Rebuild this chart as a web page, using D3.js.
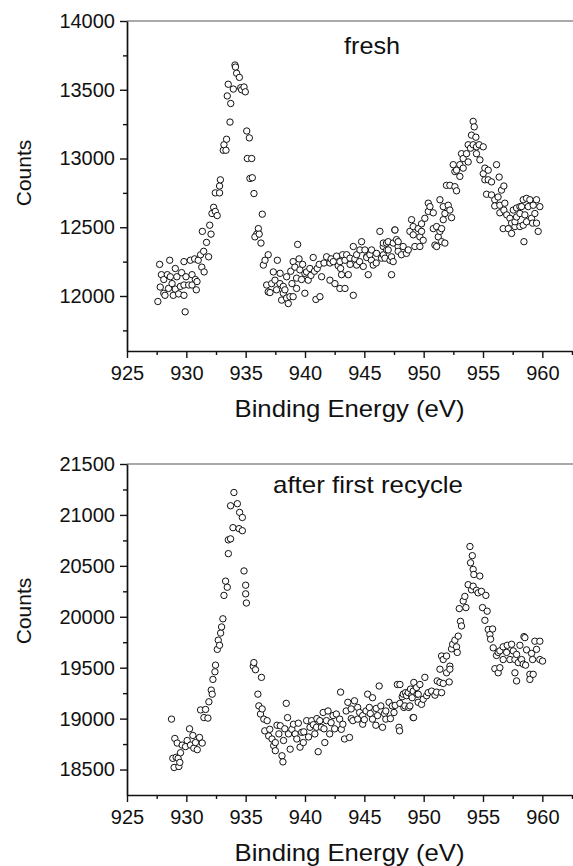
<!DOCTYPE html>
<html>
<head>
<meta charset="utf-8">
<script src="https://cdn.jsdelivr.net/npm/d3@7"></script>
<style>
  body { margin: 0; background: #fff; }
  svg { display: block; font-family: "Liberation Sans", Arial, sans-serif; }
  .domain { stroke: #111; stroke-width: 1.7px; }
  .tick line { stroke: #111; stroke-width: 1.4px; }
</style>
</head>
<body>
<div id="chart"></div>
<script>
// x ticks shared by both panels
const xTicks = [925, 930, 935, 940, 945, 950, 955, 960];
const xMinorTicks = [927.5, 932.5, 937.5, 942.5, 947.5, 952.5, 957.5, 962.5];

// fresh catalyst
const freshYTicks = [12000, 12500, 13000, 13500, 14000];
const freshYMinor = [11750, 12250, 12750, 13250, 13750];
const freshEnergy = [
  927.6, 927.75, 927.8, 927.9, 928.1, 928.1, 928.2, 928.4, 928.5, 928.6,
  928.65, 928.8, 928.9, 929.07, 929.07, 929.2, 929.35, 929.5, 929.6, 929.8,
  929.8, 929.8, 929.9, 929.97, 930.2, 930.34, 930.48, 930.48, 930.7, 930.76,
  930.84, 930.9, 931.0, 931.2, 931.3, 931.35, 931.46, 931.5, 931.7, 931.88,
  931.97, 932.08, 932.16, 932.3, 932.44, 932.44, 932.6, 932.8, 932.8, 932.87,
  933.11, 933.17, 933.34, 933.39, 933.45, 933.53, 933.68, 933.74, 933.96, 934.1,
  934.14, 934.24, 934.47, 934.58, 934.66, 934.86, 934.97, 935.09, 935.14, 935.31,
  935.36, 935.51, 935.56, 935.7, 936.07, 935.93, 935.78, 936.14, 936.29, 936.4,
  936.49, 936.63, 936.77, 936.9, 936.9, 937.05, 937.19, 937.33, 937.47, 937.6,
  937.67, 937.89, 937.9, 938.03, 938.17, 938.17, 938.31, 938.45, 938.45, 938.59,
  938.73, 938.8, 938.9, 939.0, 939.0, 939.15, 939.29, 939.29, 939.38, 939.5,
  939.57, 939.71, 939.8, 939.99, 939.99, 940.13, 940.27, 940.41, 940.5, 940.69,
  940.8, 940.92, 941.03, 941.2, 941.26, 941.4, 941.6, 941.82, 942.1, 942.1,
  942.2, 942.38, 942.52, 942.66, 942.8, 942.94, 942.94, 943.0, 943.08, 943.17,
  943.37, 943.37, 943.51, 943.65, 943.79, 943.8, 944.07, 944.07, 944.2, 944.35,
  944.35, 944.6, 944.63, 944.77, 944.91, 945.05, 945.19, 945.2, 945.33, 945.47,
  945.6, 945.61, 945.75, 946.0, 946.03, 946.31, 946.45, 946.59, 946.6, 946.6,
  946.74, 946.87, 946.88, 947.01, 947.01, 947.16, 947.29, 947.29, 947.43, 947.43,
  947.57, 947.58, 947.71, 947.85, 947.85, 947.85, 948.13, 948.27, 948.55, 948.7,
  948.84, 948.98, 949.12, 949.12, 949.26, 949.54, 949.68, 949.68, 949.82, 949.82,
  949.96, 950.1, 950.39, 950.39, 950.53, 950.81, 950.81, 950.95, 951.09, 951.09,
  951.23, 951.37, 951.37, 951.51, 951.51, 951.65, 951.65, 951.79, 951.79, 951.92,
  952.07, 952.21, 952.21, 952.35, 952.49, 952.63, 952.63, 952.77, 952.77, 953.05,
  953.05, 953.19, 953.33, 953.33, 953.61, 953.75, 953.75, 953.95, 954.03, 954.17,
  954.17, 954.26, 954.4, 954.45, 954.45, 954.67, 954.74, 955.02, 955.02, 955.16,
  955.16, 955.3, 955.44, 955.44, 955.72, 955.72, 955.99, 955.99, 956.14, 956.27,
  956.36, 956.42, 956.42, 956.56, 956.7, 956.76, 956.76, 956.84, 957.0, 957.13,
  957.27, 957.41, 957.41, 957.55, 957.69, 957.69, 957.83, 957.83, 958.11, 958.11,
  958.11, 958.25, 958.39, 958.39, 958.45, 958.53, 958.67, 958.67, 958.81, 958.95,
  959.09, 959.18, 959.23, 959.37, 959.51, 959.51, 959.65, 959.79
];
const freshCounts = [
  11960, 12230, 12065, 12155, 12120, 12020, 12005, 12155, 12055, 12260,
  12140, 12090, 12005, 12200, 12050, 12140, 12015, 12070, 12170, 12250,
  12080, 12005, 11885, 12140, 12080, 12260, 12155, 12080, 12270, 12120,
  12045, 12105, 12260, 12300, 12210, 12470, 12325, 12175, 12390, 12285,
  12515, 12450, 12600, 12645, 12615, 12750, 12585, 12750, 12800, 12845,
  13060, 13100, 13060, 13140, 13455, 13540, 13265, 13400, 13505, 13680,
  13665, 13620, 13590, 13515, 13500, 13520, 13485, 13200, 13000, 13150,
  12855, 13000, 12860, 12745, 12490, 12450, 12430, 12450, 12385, 12595,
  12225, 12260, 12080, 12300, 12030, 12025, 12090, 12175, 12115, 12045,
  12260, 12090, 12165, 11970, 12020, 12070, 12045, 12140, 11985, 11945,
  11995, 12180, 12090, 11995, 12250, 12210, 12130, 12055, 12375, 12270,
  12190, 12120, 12230, 12165, 12020, 12175, 12115, 12200, 12150, 12280,
  12180, 11975, 12200, 12230, 11995, 12140, 12240, 12285, 12240, 12115,
  12270, 12250, 12090, 12290, 12220, 12250, 12055, 12200, 12155, 12300,
  12260, 12055, 12300, 12155, 12275, 12230, 12360, 12005, 12270, 12300,
  12225, 12250, 12335, 12395, 12215, 12335, 12285, 12280, 12155, 12300,
  12260, 12335, 12225, 12240, 12310, 12470, 12275, 12360, 12385, 12300,
  12275, 12385, 12335, 12395, 12335, 12260, 12285, 12155, 12385, 12250,
  12480, 12480, 12410, 12360, 12395, 12325, 12300, 12360, 12310, 12335,
  12470, 12555, 12505, 12445, 12360, 12490, 12430, 12360, 12525, 12470,
  12405, 12565, 12675, 12615, 12650, 12605, 12490, 12370, 12505, 12360,
  12430, 12700, 12470, 12490, 12395, 12650, 12555, 12600, 12385, 12805,
  12660, 12625, 12805, 12570, 12955, 12905, 12795, 12915, 12765, 12955,
  12870, 13035, 13000, 12930, 13035, 13100, 12975, 13075, 13170, 13270,
  13100, 13230, 13155, 13085, 13035, 13100, 12990, 13085, 12890, 12930,
  12845, 12740, 12915, 12845, 12830, 12735, 12700, 12655, 12955, 12720,
  12865, 12605, 12660, 12770, 12490, 12800, 12625, 12675, 12590, 12490,
  12565, 12530, 12455, 12625, 12505, 12540, 12640, 12575, 12650, 12600,
  12505, 12650, 12700, 12515, 12395, 12590, 12710, 12540, 12650, 12700,
  12565, 12530, 12660, 12600, 12700, 12530, 12470, 12650
];

// after first recycle
const recycleYTicks = [18500, 19000, 19500, 20000, 20500, 21000, 21500];
const recycleYMinor = [18750, 19250, 19750, 20250, 20750, 21250];
const recycleEnergy = [
  928.75, 928.86, 928.97, 929.03, 929.14, 929.23, 929.31, 929.37, 929.45, 929.51,
  929.65, 929.93, 930.07, 930.27, 930.35, 930.55, 930.63, 930.77, 930.92, 931.11,
  931.2, 931.34, 931.48, 931.62, 931.82, 931.9, 932.1, 932.18, 932.24, 932.41,
  932.46, 932.61, 932.69, 932.8, 932.89, 932.97, 933.08, 933.17, 933.31, 933.45,
  933.54, 933.54, 933.73, 933.73, 933.93, 934.01, 934.3, 934.44, 934.49, 934.72,
  934.72, 934.86, 935.0, 935.0, 935.06, 935.64, 935.69, 935.83, 936.03, 936.11,
  936.25, 936.33, 936.39, 936.53, 936.61, 936.81, 936.94, 937.03, 937.22, 937.36,
  937.5, 937.5, 937.64, 937.8, 937.92, 938.06, 938.14, 938.19, 938.3, 938.42,
  938.53, 938.61, 938.75, 938.89, 939.03, 939.17, 939.31, 939.44, 939.58, 939.72,
  939.86, 939.9, 940.14, 940.3, 940.42, 940.56, 940.7, 940.83, 940.97, 941.0,
  941.11, 941.25, 941.39, 941.53, 941.6, 941.67, 941.81, 941.94, 942.08, 942.2,
  942.36, 942.5, 942.64, 942.92, 943.0, 943.06, 943.19, 943.33, 943.47, 943.61,
  943.75, 943.89, 943.9, 944.03, 944.17, 944.44, 944.44, 944.6, 944.86, 944.86,
  945.0, 945.14, 945.28, 945.42, 945.5, 945.69, 945.69, 945.97, 946.0, 946.11,
  946.25, 946.39, 946.53, 946.7, 946.81, 946.81, 947.08, 947.2, 947.36, 947.5,
  947.6, 947.78, 947.92, 947.97, 948.0, 948.0, 948.19, 948.28, 948.33, 948.42,
  948.47, 948.56, 948.7, 948.75, 948.84, 948.89, 948.98, 949.03, 949.11, 949.12,
  949.15, 949.17, 949.4, 949.44, 949.54, 949.54, 949.68, 949.82, 949.96, 950.1,
  950.25, 950.38, 950.67, 950.95, 951.09, 951.14, 951.37, 951.37, 951.51, 951.51,
  951.65, 951.65, 951.93, 951.93, 952.15, 952.21, 952.21, 952.35, 952.44, 952.63,
  952.77, 952.83, 952.91, 953.0, 953.1, 953.19, 953.33, 953.47, 953.56, 953.75,
  953.9, 953.95, 954.03, 954.1, 954.17, 954.17, 954.23, 954.45, 954.59, 954.73,
  954.87, 954.96, 955.16, 955.24, 955.35, 955.44, 955.58, 955.64, 955.81, 955.86,
  956.0, 956.14, 956.28, 956.28, 956.42, 956.42, 956.7, 956.7, 956.99, 957.04,
  957.27, 957.41, 957.55, 957.69, 957.69, 957.83, 957.83, 957.97, 958.11, 958.25,
  958.39, 958.45, 958.53, 958.59, 958.67, 958.95, 958.95, 959.09, 959.18, 959.23,
  959.37, 959.51, 959.79, 959.79, 960.02
];
const recycleCounts = [
  18995, 18610, 18520, 18805, 18620, 18760, 18610, 18530, 18570, 18665,
  18740, 18725, 18785, 18900, 18740, 18835, 18710, 18765, 18695, 18815,
  19085, 18760, 19010, 19090, 19005, 19165, 19280, 19240, 19385, 19460,
  19525, 19680, 19770, 19720, 19840, 19900, 19980, 20210, 20350, 20290,
  20620, 20755, 20765, 21090, 20875, 21220, 21110, 20865, 21025, 20975,
  20845, 20450, 20310, 20225, 20135, 19515, 19550, 19480, 19240, 19125,
  19045, 19405, 19095, 18995, 18880, 18980, 18830, 18895, 18800, 18735,
  18765, 18685, 18935, 18850, 18930, 18635, 18575, 18785, 18900, 19150,
  19010, 18850, 18700, 18895, 18945, 18850, 18800, 18955, 18720, 18865,
  18765, 18870, 18980, 18820, 18915, 18980, 18940, 18850, 18915, 19000,
  18675, 18980, 18915, 19060, 18900, 18765, 18980, 19075, 18850, 18960,
  19030, 18900, 19045, 18995, 19260, 18895, 18945, 18800, 19075, 19160,
  18815, 19095, 19000, 18980, 19175, 19110, 18995, 19060, 18945, 19030,
  18990, 19075, 19240, 19110, 19050, 19205, 18995, 18935, 19100, 19030,
  19320, 19125, 18915, 19050, 19075, 18995, 19160, 19000, 19125, 19060,
  19130, 19335, 18915, 18880, 19150, 19335, 19215, 19240, 19110, 19125,
  19255, 19225, 19255, 19110, 19125, 19290, 19225, 19205, 19010, 19270,
  19010, 19355, 19305, 19240, 19240, 19160, 19335, 19140, 19190, 19405,
  19225, 19255, 19270, 19230, 19260, 19370, 19485, 19355, 19615, 19255,
  19580, 19345, 19615, 19450, 19360, 19515, 19485, 19685, 19730, 19770,
  19705, 19650, 19810, 20080, 19955, 19910, 20155, 20200, 20090, 20315,
  20690, 20530, 20265, 20600, 20465, 20300, 20415, 20260, 20235, 20400,
  20250, 20090, 19965, 20210, 20055, 19875, 19825, 19780, 19880, 19695,
  19490, 19620, 19650, 19450, 19665, 19500, 19705, 19580, 19650, 19720,
  19580, 19730, 19665, 19580, 19450, 19630, 19370, 19550, 19720, 19580,
  19535, 19805, 19795, 19525, 19675, 19435, 19385, 19640, 19580, 19435,
  19760, 19680, 19760, 19580, 19565
];

/**
 * One XPS panel: open circle scatter, left axis, bottom axis, top frame line
 */
class ScatterPanel {
  constructor(energy, counts, _config) {
    this.config = {
      svg: _config.svg,
      top: _config.top,
      bottom: _config.bottom,
      left: _config.left || 127,
      right: _config.right || 572,
      xDomain: _config.xDomain || [925, 962.5],
      yDomain: _config.yDomain,
      yTicks: _config.yTicks,
      yMinor: _config.yMinor,
      yTitleY: _config.yTitleY,
      label: _config.label,
      labelX: _config.labelX,
      labelY: _config.labelY,
      labelWidth: _config.labelWidth,
    };
    this.data = energy.map((e, i) => ({ e: e, c: counts[i] }));
    this.init();
  }
  init() {
    let vis = this;
    vis.g = vis.config.svg.append("g");

    vis.x = d3
      .scaleLinear()
      .domain(vis.config.xDomain)
      .range([vis.config.left, vis.config.right]);
    vis.y = d3
      .scaleLinear()
      .domain(vis.config.yDomain)
      .range([vis.config.bottom, vis.config.top]);

    this.update();
  }
  update() {
    let vis = this;
    const cfg = vis.config;

    // top frame line (no right frame, it runs off the picture)
    vis.g
      .append("line")
      .attr("x1", cfg.left)
      .attr("x2", 573)
      .attr("y1", cfg.top)
      .attr("y2", cfg.top)
      .attr("stroke", "#555")
      .attr("stroke-width", 1.2);

    // minor ticks first, then major axes on top
    vis.g
      .append("g")
      .attr("transform", `translate(0, ${cfg.bottom})`)
      .call(d3.axisBottom(vis.x).tickValues(xMinorTicks).tickSize(4).tickFormat(""))
      .call((g) => g.select(".domain").remove());
    vis.g
      .append("g")
      .attr("transform", `translate(${cfg.left}, 0)`)
      .call(d3.axisLeft(vis.y).tickValues(cfg.yMinor).tickSize(4).tickFormat(""))
      .call((g) => g.select(".domain").remove());

    const xAxis = vis.g
      .append("g")
      .attr("transform", `translate(0, ${cfg.bottom})`)
      .call(
        d3.axisBottom(vis.x)
          .tickValues(xTicks)
          .tickFormat(d3.format("d"))
          .tickSize(7)
          .tickSizeOuter(0)
          .tickPadding(6)
      );
    xAxis
      .selectAll("text")
      .attr("fill", "#111")
      .style("font-size", "20px")
      .attr("dy", "0.8em");

    const yAxis = vis.g
      .append("g")
      .attr("transform", `translate(${cfg.left}, 0)`)
      .call(
        d3.axisLeft(vis.y)
          .tickValues(cfg.yTicks)
          .tickFormat(d3.format("d"))
          .tickSize(7)
          .tickSizeOuter(0)
          .tickPadding(5)
      );
    yAxis
      .selectAll("text")
      .attr("fill", "#111")
      .style("font-size", "20px");

    // data points
    vis.g
      .append("g")
      .selectAll("circle")
      .data(vis.data)
      .join("circle")
      .attr("cx", (d) => vis.x(d.e))
      .attr("cy", (d) => vis.y(d.c))
      .attr("r", 3.2)
      .attr("fill", "#fff")
      .attr("stroke", "#111")
      .attr("stroke-width", 1);

    // sample label
    vis.g
      .append("text")
      .attr("x", cfg.labelX - cfg.labelWidth / 2)
      .attr("y", cfg.labelY)
      .attr("textLength", cfg.labelWidth)
      .attr("lengthAdjust", "spacingAndGlyphs")
      .attr("fill", "#111")
      .style("font-size", "24px")
      .text(cfg.label);

    // x axis label
    vis.g
      .append("text")
      .attr("x", (cfg.left + cfg.right) / 2 - 115)
      .attr("y", cfg.bottom + 66)
      .attr("textLength", 230)
      .attr("lengthAdjust", "spacingAndGlyphs")
      .attr("fill", "#111")
      .style("font-size", "24px")
      .text("Binding Energy (eV)");

    // y axis label
    vis.g
      .append("text")
      .attr("transform", "rotate(-90)")
      .attr("x", -cfg.yTitleY)
      .attr("y", 31)
      .attr("text-anchor", "middle")
      .attr("fill", "#111")
      .style("font-size", "21px")
      .text("Counts");
  }
}

const svg = d3
  .select("#chart")
  .append("svg")
  .attr("width", 573)
  .attr("height", 866);

new ScatterPanel(freshEnergy, freshCounts, {
  svg: svg,
  top: 21,
  bottom: 351,
  yDomain: [11600, 14000],
  yTicks: freshYTicks,
  yMinor: freshYMinor,
  yTitleY: 173,
  label: "fresh",
  labelX: 372,
  labelY: 54,
  labelWidth: 56,
});

new ScatterPanel(recycleEnergy, recycleCounts, {
  svg: svg,
  top: 464,
  bottom: 795,
  yDomain: [18250, 21500],
  yTicks: recycleYTicks,
  yMinor: recycleYMinor,
  yTitleY: 611,
  label: "after first recycle",
  labelX: 368,
  labelY: 493,
  labelWidth: 190,
});
</script>
</body>
</html>
